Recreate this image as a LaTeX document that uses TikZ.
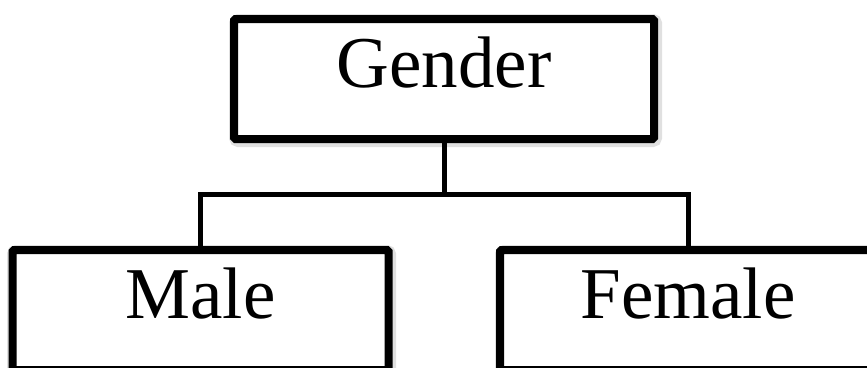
\documentclass[tikz,border=0pt]{standalone}
\usepackage{fontspec}
\setmainfont{Liberation Serif}
\begin{document}
\begin{tikzpicture}[x=1pt,y=-1pt,
  boxnode/.style={draw=black, line width=8pt, fill=white, rectangle, rounded corners=1.5pt,
    minimum height=120pt, inner sep=0pt},
  shadowbox/.style={draw=black!12, line width=13pt, rectangle, rounded corners=3pt,
    minimum height=120pt, inner sep=0pt},
  txt/.style={anchor=base, inner sep=0pt, font=\fontsize{73}{80}\selectfont},
  conn/.style={draw=black, line width=5pt, line join=miter}]
\useasboundingbox (0,0) rectangle (867,367);
\clip (0,0) rectangle (867,367);
\fill[white] (0,0) rectangle (867,367);
% shadows
\node[shadowbox, minimum width=420pt] (gshadow) at (445.5,80.5) {};
\node[shadowbox, minimum width=376pt] (mshadow) at (201.5,311.5) {};
\node[shadowbox, minimum width=376pt] (fshadow) at (689.5,311.5) {};
% boxes
\node[boxnode, minimum width=420pt] (gender) at (444,79) {};
\node[boxnode, minimum width=376pt] (male) at (200.5,310) {};
\node[boxnode, minimum width=376pt] (female) at (688,310) {};
% texts
\node[txt] (gendertext) at (444,87) {Gender};
\node[txt] (maletext) at (200.5,318) {Male};
\node[txt] (femaletext) at (688,318) {Female};
% connectors
\coordinate (bus) at (444,194);
\draw[conn] (gender.south) -- (bus);
\draw[conn] (male.north) |- (bus) -| (female.north);
\end{tikzpicture}
\end{document}
